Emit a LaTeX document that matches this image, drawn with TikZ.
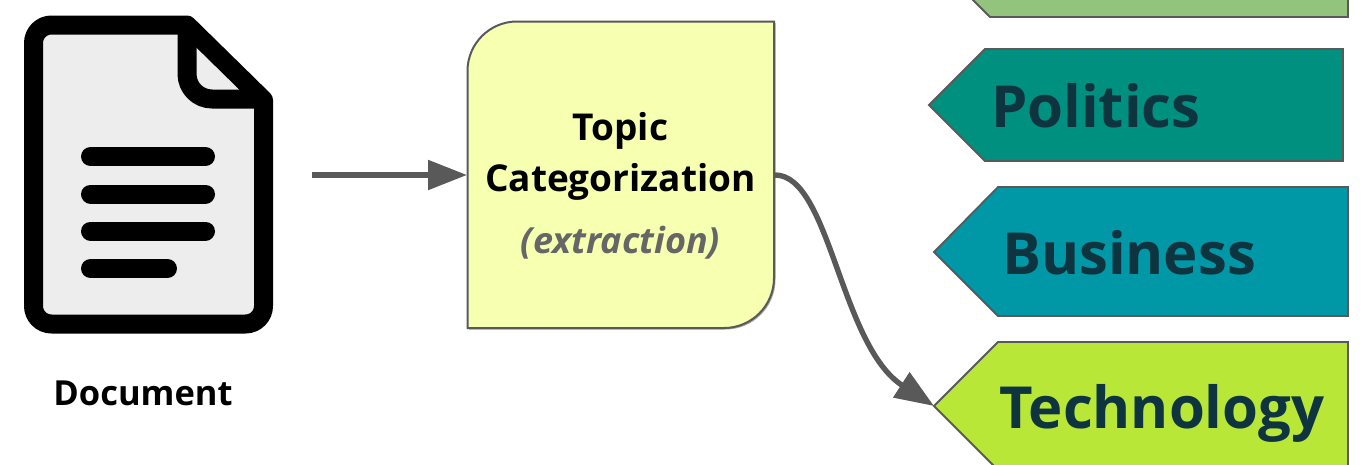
\documentclass[tikz,border=0pt]{standalone}
\usepackage{fontspec}
\setmainfont{Open Sans}
\usetikzlibrary{arrows.meta,shadows}
\definecolor{edgegray}{HTML}{595959}
\definecolor{paper}{HTML}{EDEDED}
\definecolor{boxyellow}{HTML}{F7FFB1}
\definecolor{tagtext}{HTML}{0E3440}
\definecolor{taggreen}{HTML}{93C47D}
\definecolor{tagteal}{HTML}{009080}
\definecolor{tagblue}{HTML}{0097A7}
\definecolor{taglime}{HTML}{B9E737}
\definecolor{subgray}{HTML}{666666}
\tikzset{
  tagshape/.style={draw=edgegray,line width=1.8pt,line join=miter,drop shadow={shadow xshift=0.8pt,shadow yshift=-0.8pt,opacity=0.35,fill=black}},
  tagtxt/.style={anchor=base west,inner sep=0pt,text=tagtext,font=\fontsize{58}{58}\selectfont\bfseries},
  boxtxt/.style={anchor=base,inner sep=0pt,text=black,font=\fontsize{37}{37}\selectfont\bfseries},
  conn/.style={draw=edgegray,line width=5.4pt,-{Triangle[length=39pt,width=29pt]}},
  docline/.style={line width=19pt,line cap=round,draw=black},
}
\begin{document}
\begin{tikzpicture}[x=1pt,y=-1pt]
\useasboundingbox (0,0) rectangle (1368,464);
% document icon
\draw[fill=paper,draw=black,line width=19pt,line join=round]
  (51.5,25) -- (187,25) -- (263.5,100) -- (263.5,306) arc[start angle=0,end angle=90,radius=18] -- (51.5,324)
  arc[start angle=90,end angle=180,radius=18] -- (33.5,43) arc[start angle=180,end angle=270,radius=18] -- cycle;
\draw[black,line width=19pt,line join=round] (187,25) -- (187,74) arc[start angle=180,end angle=90,radius=25] -- (263.5,99);
\draw[docline] (90.5,156.5) -- (205.5,156.5);
\draw[docline] (90.5,194) -- (205.5,194);
\draw[docline] (90.5,231) -- (205.5,231);
\draw[docline] (90.5,268.5) -- (167.5,268.5);
\node[anchor=base,inner sep=0pt,text=black,font=\fontsize{34.5}{34.5}\selectfont\bfseries] (doclabel) at (143,405) {Document};
% yellow box
\draw[fill=boxyellow,draw=edgegray,line width=2pt,drop shadow={shadow xshift=1.5pt,shadow yshift=-1.5pt,opacity=0.35,fill=black}]
  (517,21.5) -- (774,21.5) -- (774,278) arc[start angle=0,end angle=90,radius=50] -- (467.5,328) -- (467.5,71) arc[start angle=180,end angle=270,radius=49.5] -- cycle;
\coordinate (boxin) at (467,175);
\coordinate (boxout) at (775,175);
\coordinate (docout) at (312,175);
\node[boxtxt] (topic) at (620.5,140) {Topic};
\node[boxtxt] (categ) at (620.5,191) {Categorization};
\node[anchor=base,inner sep=0pt,text=subgray,font=\fontsize{36}{36}\selectfont\bfseries\itshape] (extr) at (620.5,253) {(extraction)};
% tags
\fill[taggreen,tagshape] (1348,-10) -- (1348,17) -- (990,17) -- (963,-10) -- cycle;
\fill[tagteal,tagshape] (985,49) -- (1343,49) -- (1343,161) -- (985,161) -- (929,105) -- cycle;
\fill[tagblue,tagshape] (998,187) -- (1348,187) -- (1348,316) -- (998,316) -- (934,252) -- cycle;
\fill[taglime,tagshape] (998,342) -- (1348,342) -- (1348,470) -- (998,470) -- (934,406) -- cycle;
\coordinate (techtip) at (934,406);
\node[tagtxt] (politics) at (991,127) {Politics};
\node[tagtxt] (business) at (1002,274) {Business};
\node[tagtxt] (technology) at (999,428) {Technology};
% connectors
\draw[conn] (docout) -- (boxin);
\draw[conn] (boxout) .. controls (830,175) and (840,345) .. (techtip);
\end{tikzpicture}
\end{document}
